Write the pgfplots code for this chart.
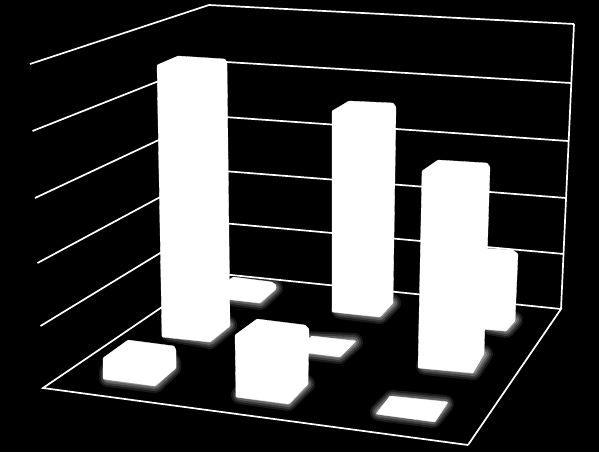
\documentclass[border=0pt]{standalone}
\usepackage{pgfplots}
\pgfplotsset{compat=1.18}
\pgfplotsset{
 grid line/.style={draw=white,line width=1.7pt,no marks,line join=miter},
 bar3d/.style={fill=white,draw=white,line width=0.3pt,no marks,rounded corners=0.8pt},
 g1/.style={draw=white,fill=white,line width=18pt,opacity=.10,no marks,line join=round},
 g2/.style={draw=white,fill=white,line width=14pt,opacity=.14,no marks,line join=round},
 g3/.style={draw=white,fill=white,line width=10pt,opacity=.20,no marks,line join=round},
 g4/.style={draw=white,fill=white,line width=6pt,opacity=.28,no marks,line join=round},
}
% glow under one bar: footprint on the floor
\newcommand{\glow}[1]{%
 \addplot[g1] coordinates {#1} -- cycle;
 \addplot[g2] coordinates {#1} -- cycle;
 \addplot[g3] coordinates {#1} -- cycle;
 \addplot[g4] coordinates {#1} -- cycle;
}
\begin{document}
\begin{tikzpicture}
\begin{axis}[
 scale only axis,width=599pt,height=452pt,
 xmin=0,xmax=599,ymin=0,ymax=452,y dir=reverse,
 axis lines=none,ticks=none,clip=true]
\addplot[fill=black,draw=none,no marks] coordinates {(0,0)(599,0)(599,452)(0,452)} -- cycle;
% walls and gridlines
\addplot[grid line] coordinates {(30,64)(209,5)(574,24)};
\addplot[grid line] coordinates {(32.5,131)(209.5,61)(571,83)};
\addplot[grid line] coordinates {(35,198)(210,116)(568,141)};
\addplot[grid line] coordinates {(37.5,263)(210.5,170)(566,198)};
\addplot[grid line] coordinates {(40.5,326)(211,222)(564,254)};
\addplot[grid line] coordinates {(468,445)(43,388)(212,273)(561,309)(468,445)};
\addplot[grid line] coordinates {(574,24)(561,309)};
% glows
\glow{(108,372)(172,362)(172,368)(155,384)(108,378)}
\glow{(170,333)(210,340)(228,325)(190,320)}
\glow{(225,296)(260,301)(274,288)(240,285)}
\glow{(240,395)(288,402)(306,384)(260,378)}
\glow{(305,340)(354,342)(339,355)(300,350)}
\glow{(340,310)(380,315)(392,303)(350,298)}
\glow{(425,366)(473,371)(484,354)(440,350)}
\glow{(490,326)(506,329)(514,320)(495,315)}
\glow{(392,399)(445,404)(433,419)(379,412)}
% bars, back to front
\addplot[bar3d] coordinates {(215,290)(233,277)(272,282)(276,285)(276,289)(260,303)(215,298)} -- cycle;
\addplot[bar3d] coordinates {(480,248)(513,250)(518,254)(515,321)(506,331)(480,329)} -- cycle;
\addplot[bar3d] coordinates {(332,111)(349,101)(393,103)(396,107)(393,303)(380,317)(332,312)} -- cycle;
\addplot[bar3d] coordinates {(300,345)(312,336)(356,341)(340,357)(300,352)} -- cycle;
\addplot[bar3d] coordinates {(157,65)(178,56)(225,59)(227,63)(230,326)(210,342)(162,337)} -- cycle;
\addplot[bar3d] coordinates {(422,171)(438,160)(487,163)(490,167)(484,354)(473,373)(418,368)} -- cycle;
\addplot[bar3d] coordinates {(235,335)(257,319)(305,325)(309,329)(308,384)(289,404)(236,397)} -- cycle;
\addplot[bar3d] coordinates {(103,358)(128,340)(174,346)(176,350)(176,368)(155,386)(103,379)} -- cycle;
\addplot[bar3d] coordinates {(390,396)(448,402)(435,422)(376,414)} -- cycle;
\end{axis}
\end{tikzpicture}
\end{document}
